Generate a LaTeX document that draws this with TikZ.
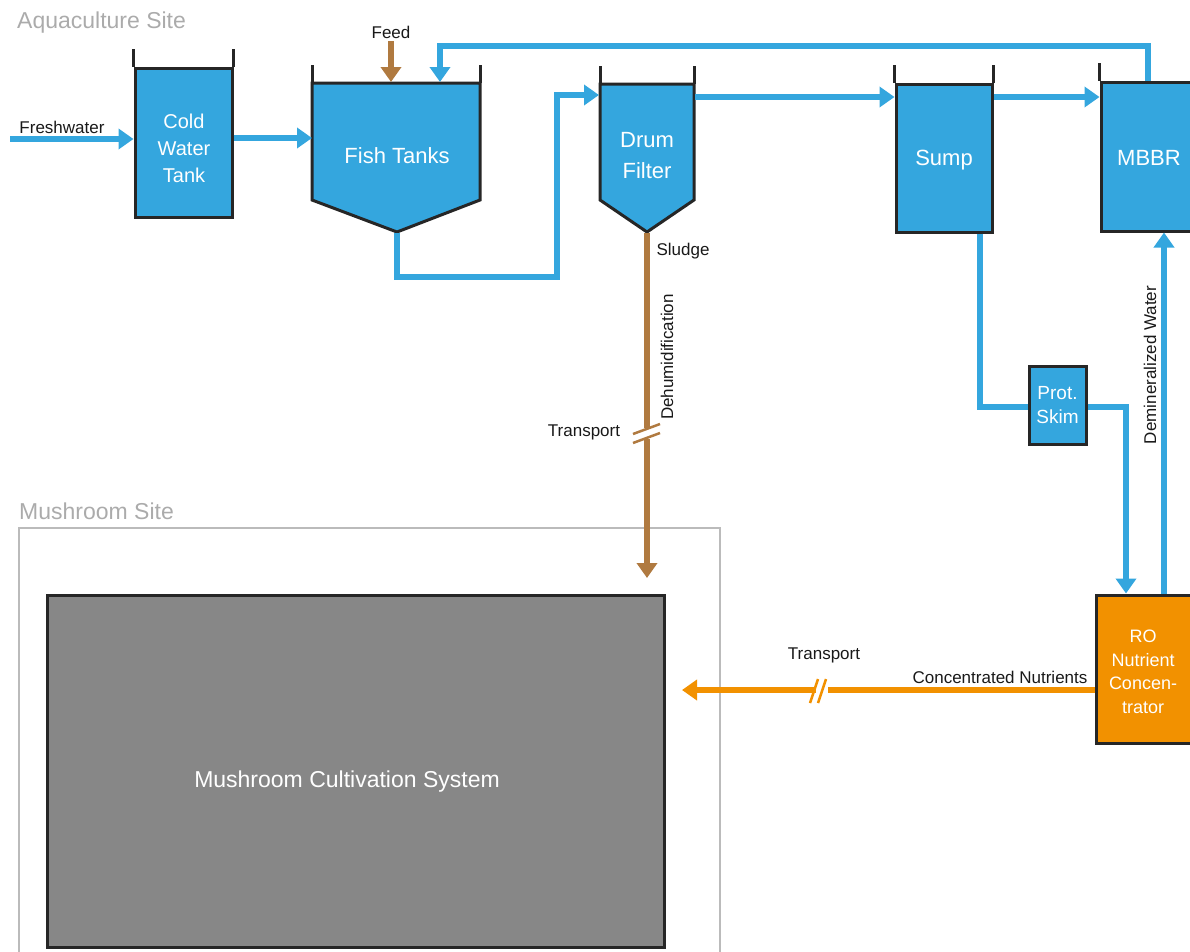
\documentclass[tikz,border=0pt]{standalone}
\usepackage{fontspec}
\setmainfont{Liberation Sans}
\usetikzlibrary{arrows.meta}
\definecolor{wblue}{HTML}{34A6DE}
\definecolor{brn}{HTML}{B07A40}
\definecolor{org}{HTML}{F29100}
\definecolor{mgray}{HTML}{878787}
\definecolor{ttlgray}{HTML}{ABABAB}
\definecolor{sitegray}{HTML}{BBBBBB}
\begin{document}
\begin{tikzpicture}[x=1pt,y=-1pt,
  tank/.style={draw=black!85,line width=3pt,fill=wblue,text=white,inner sep=0pt,align=center,font=\fontsize{22}{31}\selectfont},
  wall/.style={draw=black!85,line width=3pt},
  tip/.style={-{Triangle[length=15pt,width=20pt]}},
  flow/.style={draw=wblue,line width=6pt,tip},
  flowplain/.style={draw=wblue,line width=6pt},
  sludgeflow/.style={draw=brn,line width=6pt,tip},
  nutflow/.style={draw=org,line width=6pt,tip},
  lbl/.style={text=black!90,font=\fontsize{17}{20}\selectfont,inner sep=0pt},
  ttl/.style={text=ttlgray,font=\fontsize{23}{26}\selectfont,inner sep=0pt,anchor=west},
  intext/.style={text=white,align=center,inner sep=0pt},
  brk/.style={line width=2.5pt}
]
\useasboundingbox (0,0) rectangle (1190,951);
\clip (0,0) rectangle (1190,951);

% titles
\node[ttl] (aqua) at (17,23) {Aquaculture Site};
\node[ttl] (mushsite) at (19,511) {Mushroom Site};

% mushroom site frame
\draw[sitegray,line width=2pt] (19,528) rectangle (720,980);

% mushroom system
\node[draw=black!85,line width=3pt,fill=mgray,inner sep=0pt,
  minimum width=617pt,minimum height=352pt] (mush) at (355.5,771) {};
\node[intext,font=\fontsize{23}{27}\selectfont] (mushtxt) at (347,782) {Mushroom Cultivation System};

% cold water tank
\node[tank,minimum width=97pt,minimum height=149pt] (cold) at (183.5,142.5) {};
\node[intext,font=\fontsize{20}{27}\selectfont] (coldtxt) at (184,148) {Cold\\Water\\Tank};
\draw[wall] (cold.north west) -- ++(0,-18);
\draw[wall] (cold.north east) -- ++(0,-18);

% fish tanks
\draw[wall,fill=wblue] (312,83) -- (480,83) -- (480,200) -- (397,232) -- (312,200) -- cycle;
\draw[wall] (312,83) -- (312,65);
\draw[wall] (480,83) -- (480,65);
\node[intext,font=\fontsize{22}{26}\selectfont] (fish) at (397,156) {Fish Tanks};
\coordinate (fishW) at (312,138);
\coordinate (fishB) at (397,233);
\coordinate (fishTopA) at (391,82);
\coordinate (fishTopB) at (440,82);

% drum filter
\draw[wall,fill=wblue] (600,84) -- (694,84) -- (694,200) -- (647,232) -- (600,200) -- cycle;
\draw[wall] (600,84) -- (600,66);
\draw[wall] (694,84) -- (694,66);
\node[intext,font=\fontsize{22}{31}\selectfont] (drum) at (647,156) {Drum\\Filter};
\coordinate (drumW) at (599,95);
\coordinate (drumE) at (695,97);
\coordinate (drumB) at (647,233);

% sump
\node[tank,minimum width=96pt,minimum height=148pt] (sump) at (944,158) {};
\node[intext,font=\fontsize{22}{26}\selectfont] (sumptxt) at (944,160) {Sump};
\draw[wall] (sump.north west) -- ++(0,-18);
\draw[wall] (sump.north east) -- ++(0,-18);

% MBBR
\node[tank,minimum width=96pt,minimum height=149pt] (mbbr) at (1149,156.5) {};
\node[intext,font=\fontsize{22}{26}\selectfont] (mbbrtxt) at (1149,158) {MBBR};
\draw[wall] (mbbr.north west) -- ++(0,-18);

% protein skimmer
\node[tank,minimum width=57pt,minimum height=78pt,font=\fontsize{19}{24}\selectfont] (skim) at (1057.5,405) {Prot.\\Skim};

% RO
\node[draw=black!85,line width=3pt,fill=org,inner sep=0pt,
  minimum width=96pt,minimum height=148pt] (ro) at (1144,669) {};
\node[intext,font=\fontsize{18}{23.5}\selectfont] (rotxt) at (1143,672) {RO\\Nutrient\\Concen-\\trator};

% labels
\node[lbl] (feedlbl) at (391,32) {Feed};
\node[lbl] (freshlbl) at (62,127) {Freshwater};
\node[lbl] (sludgelbl) at (683,251) {Sludge};
\node[lbl,rotate=90] (dehum) at (667,357) {Dehumidification};
\node[lbl] (trans1) at (584,432) {Transport};
\node[lbl,rotate=90] (demin) at (1150,365) {Demineralized Water};
\node[lbl] (trans2) at (824,655) {Transport};
\node[lbl] (conclbl) at (1000,677) {Concentrated Nutrients};

% flows
\coordinate (fw) at (10,139);
\draw[flow] (fw) -- (fw -| cold.west);
\draw[flow] (fishW -| cold.east) -- (fishW);
\draw[sludgeflow] (391,41) -- (fishTopA);
\draw[flow] (fishB) -- (397,277) -- (557,277) -- (557,95) -- (drumW);
\draw[flow] (drumE) -- (drumE -| sump.west);
\draw[flow] (sump.east |- 0,97) -- (mbbr.west |- 0,97);
\draw[flow] (mbbr.north -| 1148,0) -- (1148,46) -- (440,46) -- (fishTopB);
\draw[sludgeflow] (drumB) -- (647,578);
\draw[flowplain] (sump.south -| 980,0) -- (980,407) -- (skim.west |- 0,407);
\draw[flow] (skim.east |- 0,407) -- (1126,407) -- (ro.north -| 1126,0);
\draw[flow] (ro.north -| 1164,0) -- (mbbr.south -| 1164,0);
\draw[nutflow] (ro.west |- 0,690) -- (682,690);

% transport break marks
\fill[white] (640,428) rectangle (654,439);
\draw[brn,brk] (633,434) -- (660,424);
\draw[brn,brk] (633,443) -- (660,433);
\fill[white] (816,684) rectangle (828,696);
\draw[org,brk] (810,703) -- (818,679);
\draw[org,brk] (818,703) -- (826,679);
\end{tikzpicture}
\end{document}
